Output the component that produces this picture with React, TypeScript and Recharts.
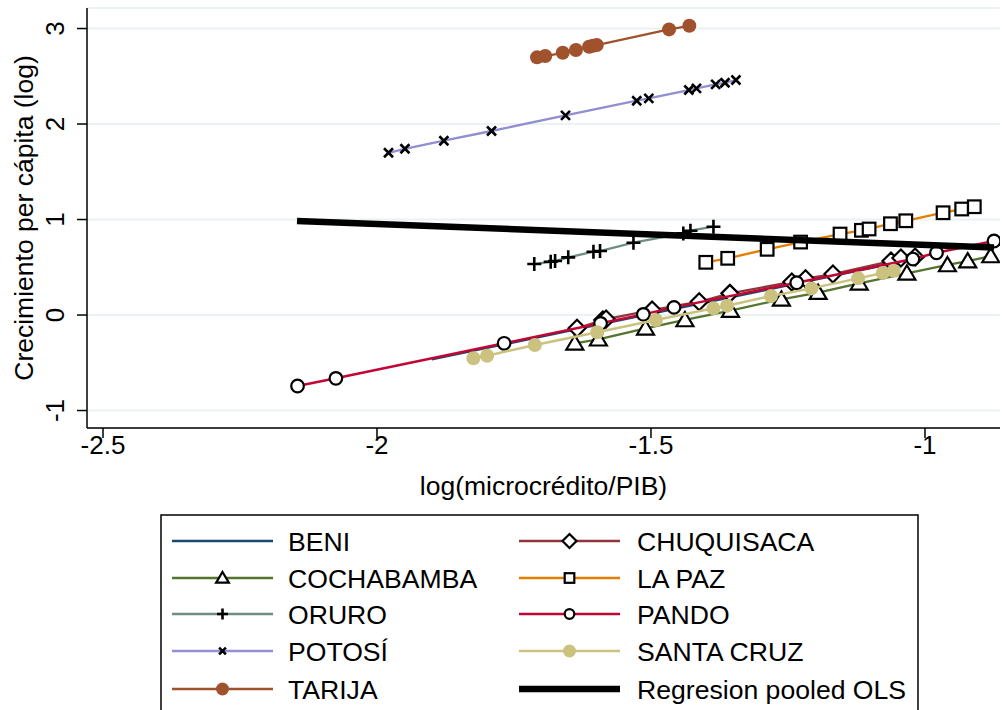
import React from 'react';
import { ScatterChart, Scatter, XAxis, YAxis, CartesianGrid } from 'recharts';

// ---------- data ----------
const xTicks = [-2.5, -2, -1.5, -1];
const yTicks = [-1, 0, 1, 2, 3];

const beniX = [-1.9, -1.75, -1.6, -1.45, -1.3, -1.15, -1.0];
const beniY = [-0.465, -0.286, -0.107, 0.072, 0.251, 0.43, 0.61];

const chuquisacaX = [-1.635, -1.588, -1.582, -1.498, -1.412, -1.356, -1.243, -1.218, -1.168, -1.062, -1.044, -1.018];
const chuquisacaY = [-0.139, -0.052, -0.042, 0.052, 0.139, 0.227, 0.346, 0.38, 0.429, 0.565, 0.597, 0.607];

const cochabambaX = [-1.639, -1.596, -1.51, -1.438, -1.355, -1.262, -1.195, -1.12, -1.033, -0.959, -0.922, -0.88];
const cochabambaY = [-0.296, -0.254, -0.139, -0.052, 0.047, 0.164, 0.234, 0.332, 0.437, 0.524, 0.565, 0.618];

const laPazX = [-1.4, -1.36, -1.288, -1.227, -1.155, -1.116, -1.102, -1.063, -1.035, -0.967, -0.933, -0.91];
const laPazY = [0.552, 0.594, 0.688, 0.764, 0.848, 0.887, 0.901, 0.956, 0.987, 1.071, 1.11, 1.134];

const oruroX = [-1.713, -1.683, -1.675, -1.651, -1.605, -1.593, -1.532, -1.441, -1.428, -1.386];
const oruroY = [0.534, 0.558, 0.565, 0.604, 0.663, 0.67, 0.757, 0.855, 0.883, 0.925];

const pandoX = [-2.145, -2.075, -1.768, -1.592, -1.514, -1.458, -1.234, -1.022, -0.979, -0.874];
const pandoY = [-0.743, -0.663, -0.296, -0.087, 0.007, 0.08, 0.338, 0.586, 0.652, 0.775];

const potosiX = [-1.979, -1.949, -1.878, -1.791, -1.656, -1.526, -1.504, -1.431, -1.417, -1.382, -1.365, -1.345];
const potosiY = [1.699, 1.741, 1.825, 1.927, 2.091, 2.244, 2.269, 2.356, 2.373, 2.415, 2.432, 2.461];

const santaCruzX = [-1.824, -1.799, -1.712, -1.598, -1.491, -1.386, -1.361, -1.281, -1.207, -1.122, -1.077, -1.057];
const santaCruzY = [-0.453, -0.426, -0.314, -0.181, -0.052, 0.07, 0.098, 0.199, 0.279, 0.384, 0.44, 0.464];

const tarijaX = [-1.708, -1.693, -1.661, -1.637, -1.613, -1.606, -1.599, -1.467, -1.43];
const tarijaY = [2.698, 2.712, 2.746, 2.775, 2.809, 2.82, 2.827, 2.991, 3.029];

const olsX = [-2.146, -0.874];
const olsY = [0.985, 0.707];

// ---------- helpers ----------
type Pt = { x: number; y: number };
const zip = (xs: number[], ys: number[]): Pt[] => xs.map((x, i) => ({ x, y: ys[i] }));

const FONT = '"Liberation Sans", Arial, Helvetica, sans-serif';

function drawMarker(kind: string, cx: number, cy: number, s: number, color: string) {
  switch (kind) {
    case 'diamond':
      return <path d={`M${cx},${cy - s}L${cx + s},${cy}L${cx},${cy + s}L${cx - s},${cy}Z`} fill="#fff" stroke="#000" strokeWidth={2.2} />;
    case 'triangle':
      return <path d={`M${cx},${cy - s}L${cx + s * 1.06},${cy + s * 0.78}L${cx - s * 1.06},${cy + s * 0.78}Z`} fill="#fff" stroke="#000" strokeWidth={2.2} strokeLinejoin="miter" />;
    case 'square':
      return <rect x={cx - s} y={cy - s} width={2 * s} height={2 * s} fill="#fff" stroke="#000" strokeWidth={2.2} />;
    case 'circle':
      return <circle cx={cx} cy={cy} r={s} fill="#fff" stroke="#000" strokeWidth={2.2} />;
    case 'plus':
      return <path d={`M${cx - s},${cy}H${cx + s}M${cx},${cy - s}V${cy + s}`} stroke="#000" strokeWidth={2.6} fill="none" />;
    case 'x':
      return <path d={`M${cx - s},${cy - s}L${cx + s},${cy + s}M${cx - s},${cy + s}L${cx + s},${cy - s}`} stroke="#000" strokeWidth={2.6} fill="none" />;
    case 'dot':
      return <circle cx={cx} cy={cy} r={s} fill={color} stroke="none" />;
    default:
      return <g />;
  }
}

const makeShape = (kind: string, s: number, color: string) => (p: any) => {
  if (p == null || p.cx == null || p.cy == null) return <g />;
  return drawMarker(kind, p.cx, p.cy, s, color);
};

type Series = {
  name: string;
  color: string;
  data: Pt[];
  kind: string;
  size: number;
  legendSize: number;
  width: number;
  legendWidth: number;
};

const series: Series[] = [
  { name: 'BENI', color: '#1a476f', data: zip(beniX, beniY), kind: 'none', size: 0, legendSize: 0, width: 2.3, legendWidth: 2.5 },
  { name: 'CHUQUISACA', color: '#90353b', data: zip(chuquisacaX, chuquisacaY), kind: 'diamond', size: 8.5, legendSize: 7, width: 2.3, legendWidth: 2.5 },
  { name: 'COCHABAMBA', color: '#55752f', data: zip(cochabambaX, cochabambaY), kind: 'triangle', size: 8, legendSize: 6, width: 2.3, legendWidth: 2.5 },
  { name: 'LA PAZ', color: '#e37e00', data: zip(laPazX, laPazY), kind: 'square', size: 6.3, legendSize: 4.8, width: 2.3, legendWidth: 2.5 },
  { name: 'ORURO', color: '#6e8e84', data: zip(oruroX, oruroY), kind: 'plus', size: 7, legendSize: 5.5, width: 2.3, legendWidth: 2.5 },
  { name: 'PANDO', color: '#c10534', data: zip(pandoX, pandoY), kind: 'circle', size: 6.3, legendSize: 4.8, width: 2.5, legendWidth: 2.5 },
  { name: 'POTOSÍ', color: '#938dd2', data: zip(potosiX, potosiY), kind: 'x', size: 4.5, legendSize: 3.4, width: 2.3, legendWidth: 2.5 },
  { name: 'SANTA CRUZ', color: '#cac27e', data: zip(santaCruzX, santaCruzY), kind: 'dot', size: 7, legendSize: 6.5, width: 2.5, legendWidth: 2.5 },
  { name: 'TARIJA', color: '#a0522d', data: zip(tarijaX, tarijaY), kind: 'dot', size: 7, legendSize: 6.5, width: 2.3, legendWidth: 2.5 },
];

const ols = { name: 'Regresion pooled OLS', color: '#000', data: zip(olsX, olsY) };

// ---------- axis renderers ----------
const XTick = (p: any) => {
  const { x, y, payload } = p;
  return (
    <text x={x} y={y + 14} textAnchor="middle" fontSize={26} fontFamily={FONT} fill="#000">
      {String(payload.value)}
    </text>
  );
};

const YTick = (p: any) => {
  const { x, y, payload } = p;
  const bx = x - 11;
  return (
    <text x={bx} y={y} transform={`rotate(-90, ${bx}, ${y})`} textAnchor="middle" fontSize={26} fontFamily={FONT} fill="#000">
      {String(payload.value)}
    </text>
  );
};

const XLabel = (p: any) => {
  const vb = p.viewBox || {};
  const cx = vb.x + vb.width / 2;
  return (
    <text x={cx} y={vb.y + 67} textAnchor="middle" fontSize={26.5} fontFamily={FONT} fill="#000">
      log(microcrédito/PIB)
    </text>
  );
};

const YLabel = (p: any) => {
  const vb = p.viewBox || {};
  const cy = vb.y + vb.height / 2;
  const bx = 33;
  return (
    <text x={bx} y={cy} transform={`rotate(-90, ${bx}, ${cy})`} textAnchor="middle" fontSize={26.5} fontFamily={FONT} fill="#000">
      Crecimiento per cápita (log)
    </text>
  );
};

// ---------- legend ----------
const legendRows = [541, 578, 614, 651, 689];
const legendCols = [
  { lineX1: 172, lineX2: 273, textX: 288 },
  { lineX1: 519, lineX2: 620, textX: 637 },
];

const LegendBox = () => {
  const items: any[] = [];
  const all = [...series.map((s) => ({ ...s, ols: false })), { ...ols, kind: 'none', size: 0, legendSize: 0, width: 6, legendWidth: 6.5, ols: true }];
  all.forEach((s: any, i: number) => {
    const col = legendCols[i % 2];
    const cy = legendRows[Math.floor(i / 2)];
    const mx = (col.lineX1 + col.lineX2) / 2;
    items.push(
      <g key={s.name}>
        <line x1={col.lineX1} x2={col.lineX2} y1={cy} y2={cy} stroke={s.color} strokeWidth={s.legendWidth} />
        {s.kind !== 'none' ? drawMarker(s.kind, mx, cy, s.legendSize, s.color) : null}
        <text x={col.textX} y={cy + 9.5} fontSize={26.6} fontFamily={FONT} fill="#000">
          {s.name}
        </text>
      </g>
    );
  });
  return (
    <svg width={1002} height={710} style={{ position: 'absolute', left: 0, top: 0, pointerEvents: 'none' }}>
      <rect x={161} y={515} width={757} height={220} fill="#fff" stroke="#000" strokeWidth={1.5} />
      {items}
    </svg>
  );
};

// ---------- chart ----------
export default function App() {
  return (
    <div style={{ position: 'absolute', left: 0, top: 0, width: 1002, height: 710, overflow: 'hidden', background: '#fff' }}>
      <ScatterChart width={1002} height={710} margin={{ top: 8, right: 2, bottom: 222, left: 0 }}>
        <CartesianGrid vertical={false} stroke="#eaf2f3" strokeWidth={2} />
        <XAxis
          dataKey="x"
          type="number"
          domain={[-2.5292, -0.8631]}
          ticks={xTicks}
          allowDataOverflow
          height={60}
          tickSize={10}
          tick={XTick}
          axisLine={{ stroke: '#000', strokeWidth: 1.5 }}
          tickLine={{ stroke: '#000', strokeWidth: 1.5 }}
          label={XLabel}
          interval={0}
        />
        <YAxis
          dataKey="y"
          type="number"
          domain={[-1.183, 3.215]}
          ticks={yTicks}
          allowDataOverflow
          width={87}
          tickSize={10}
          tick={YTick}
          axisLine={{ stroke: '#000', strokeWidth: 1.5 }}
          tickLine={{ stroke: '#000', strokeWidth: 1.5 }}
          label={YLabel}
          interval={0}
        />
        {series.map((s) => (
          <Scatter
            key={s.name}
            name={s.name}
            data={s.data}
            line={{ stroke: s.color, strokeWidth: s.width }}
            lineType="joint"
            shape={makeShape(s.kind, s.size, s.color)}
            isAnimationActive={false}
          />
        ))}
        <Scatter
          name={ols.name}
          data={ols.data}
          line={{ stroke: '#000', strokeWidth: 6.5 }}
          lineType="joint"
          shape={makeShape('none', 0, '#000')}
          isAnimationActive={false}
        />
      </ScatterChart>
      <LegendBox />
    </div>
  );
}
